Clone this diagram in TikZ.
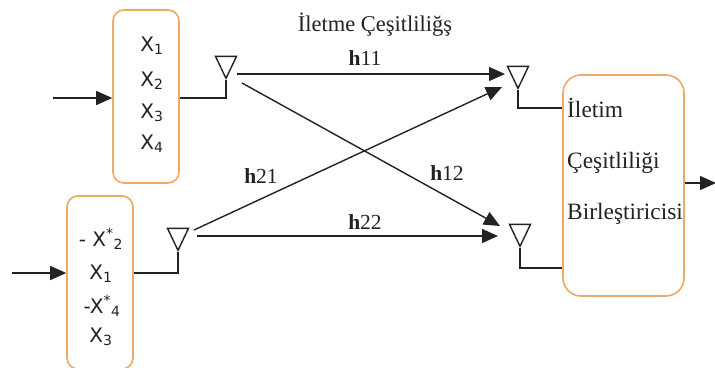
\documentclass[tikz,border=0pt]{standalone}
\usepackage{fontspec}
\setmainfont{Liberation Serif}
\setsansfont{DejaVu Sans}
\usepackage{xcolor}
\usetikzlibrary{arrows.meta,shapes.geometric}
\definecolor{boxorange}{HTML}{EDA966}
\definecolor{inkgray}{HTML}{222222}
\tikzset{
  codebox/.style={draw=boxorange,line width=1.6pt,rounded corners=11pt,inner sep=0pt,minimum width=66pt},
  antenna/.style={draw=inkgray,line width=1.4pt,isosceles triangle,isosceles triangle apex angle=51,shape border rotate=-90,inner sep=0pt,minimum height=22pt,anchor=apex},
  link/.style={draw=inkgray,line width=1.4pt},
  sig/.style={link,-{Triangle[length=16pt,width=14pt]}},
  sym/.style={font=\sffamily\fontsize{20}{22}\selectfont,text=inkgray,inner sep=0pt},
  gain/.style={font=\fontsize{21.5}{24}\selectfont,text=inkgray,inner sep=0pt},
  combtext/.style={font=\fontsize{23.4}{26}\selectfont,text=inkgray,inner sep=0pt,anchor=west}
}
\begin{document}
\begin{tikzpicture}[x=1pt,y=-1pt]
\useasboundingbox (0,0) rectangle (715,367);
\node (box1) at (146,96.5) [codebox,minimum height=173pt] {};
\node (box2) at (100,282.5) [codebox,minimum height=173pt] {};
\node (box3) at (623.5,185.5) [codebox,minimum width=121pt,minimum height=221pt,rounded corners=18pt] {};
\node (tx1) at (226,80) [antenna] {};
\node (tx2) at (178,252) [antenna] {};
\node (rx1) at (518,90) [antenna] {};
\node (rx2) at (520,248) [antenna] {};
\node (title) at (375,25) [gain,font=\fontsize{22.5}{24}\selectfont] {İletme Çeşitliliğş};
\node (x11) at (152,46) [sym] {X\textsubscript{1}};
\node (x12) at (152,81) [sym] {X\textsubscript{2}};
\node (x13) at (152,113) [sym] {X\textsubscript{3}};
\node (x14) at (152,144) [sym] {X\textsubscript{4}};
\node (x21) at (101,239) [sym] {- X\textsuperscript{*}\textsubscript{2}};
\node (x22) at (101,274) [sym] {X\textsubscript{1}};
\node (x23) at (102,306) [sym] {-X\textsuperscript{*}\textsubscript{4}};
\node (x24) at (101,337) [sym] {X\textsubscript{3}};
\node (h11) at (365,58) [gain] {\textbf{h}11};
\node (h21) at (261,176) [gain] {\textbf{h}21};
\node (h12) at (447,173) [gain] {\textbf{h}12};
\node (h22) at (365,222) [gain] {\textbf{h}22};
\node (c1) at (567,108) [combtext] {İletim};
\node (c2) at (567,163) [combtext] {Çeşitliliği};
\node (c3) at (567,214) [combtext] {Birleştiricisi};
\coordinate (in1) at (53,98);
\coordinate (in2) at (12,273);
\coordinate (out) at (716,183);
\coordinate (t1a) at (237,74);
\coordinate (t1b) at (242,83);
\coordinate (t2a) at (194,230);
\coordinate (t2b) at (197,236);
\coordinate (r1a) at (505,74);
\coordinate (r1b) at (502,87);
\coordinate (r2a) at (500,226);
\coordinate (r2b) at (498,236);
\draw[sig] (in1) -- (in1 -| box1.west);
\draw[sig] (in2) -- (in2 -| box2.west);
\draw[sig] (box3.east |- out) -- (out);
\draw[link] (tx1.apex) |- (in1 -| box1.east);
\draw[link] (tx2.apex) |- (in2 -| box2.east);
\draw[link] (rx1.apex) |- (box3.west |- 0,108);
\draw[link] (rx2.apex) |- (box3.west |- 0,268);
\draw[sig] (t1a) -- (r1a);
\draw[sig] (t1b) -- (r2a);
\draw[sig] (t2a) -- (r1b);
\draw[sig] (t2b) -- (r2b);
\end{tikzpicture}
\end{document}
